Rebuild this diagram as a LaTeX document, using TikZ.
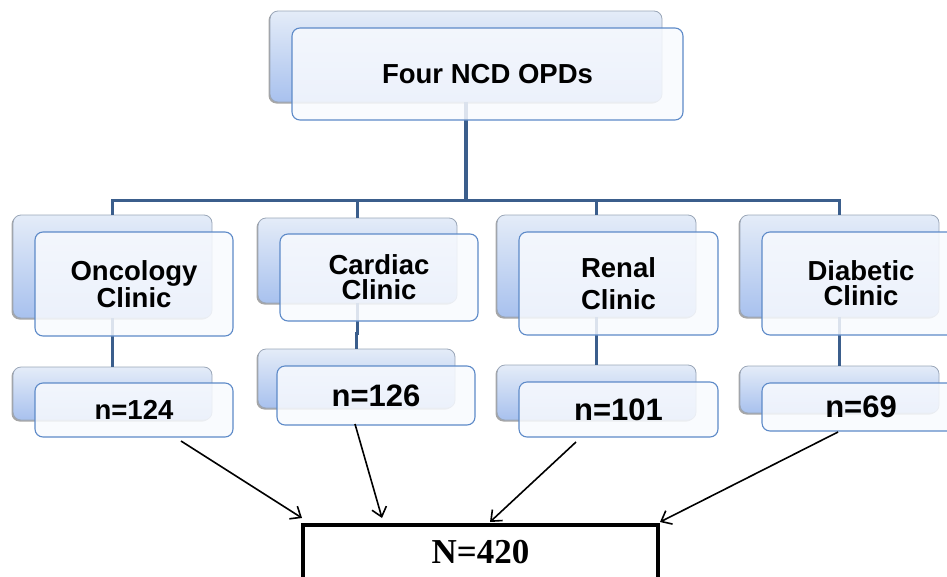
\documentclass[tikz,border=0pt]{standalone}
\usepackage{fontspec}
\setmainfont{Liberation Sans}
\newfontfamily\timesf{Liberation Serif}
\usetikzlibrary{arrows.meta,shadows}
\definecolor{connc}{HTML}{3B5E8C}
\definecolor{bluetop}{HTML}{E4ECF8}
\definecolor{bluebot}{HTML}{A8C1EE}
\definecolor{backedge}{HTML}{9AA6B8}
\definecolor{frontedge}{HTML}{5D8AC8}
\definecolor{frontfill}{HTML}{F8FAFE}
\begin{document}
\begin{tikzpicture}[x=1pt,y=-1pt,
  backbox/.style={draw=backedge, line width=0.8pt, rounded corners=8pt,
    top color=bluetop, bottom color=bluebot, inner sep=0pt,
    drop shadow={shadow xshift=-1.5pt, shadow yshift=-1.5pt, opacity=0.35, fill=black}},
  frontbox/.style={draw=frontedge, line width=1.1pt, rounded corners=8pt,
    fill=frontfill, fill opacity=0.85, text opacity=1, inner sep=0pt,
    align=center, font=\bfseries\fontsize{27.5}{25}\selectfont},
  conn/.style={draw=connc, line width=3.4pt},
  arr/.style={draw=black, line width=1.6pt, -{Straight Barb[length=9pt,width=15pt,line width=1.6pt]}},
  totalbox/.style={draw=black, line width=3.2pt, fill=white, inner sep=0pt,
    font=\timesf\bfseries\fontsize{35}{35}\selectfont}
]
\useasboundingbox (0,0) rectangle (947,576);
\clip (0,0) rectangle (947,576);

% back boxes
\node[backbox, minimum width=392pt, minimum height=91pt] (tback) at (466,56.5) {};
\node[backbox, minimum width=199pt, minimum height=103pt] (oback) at (112.5,266.5) {};
\node[backbox, minimum width=199pt, minimum height=85pt] (cback) at (357.5,260.5) {};
\node[backbox, minimum width=199pt, minimum height=102pt] (rback) at (596.5,266) {};
\node[backbox, minimum width=199pt, minimum height=102pt] (dback) at (839.5,266) {};
\node[backbox, minimum width=199pt, minimum height=53pt] (onback) at (112.5,393.5) {};
\node[backbox, minimum width=197pt, minimum height=59pt] (cnback) at (356.5,378.5) {};
\node[backbox, minimum width=199pt, minimum height=55pt] (rnback) at (596.5,392.5) {};
\node[backbox, minimum width=199pt, minimum height=47pt] (dnback) at (839.5,389.5) {};

% tree connectors
\draw[conn] (tback.south) -- ++(0,98) -| (oback.north);
\draw[conn] (tback.south) -- ++(0,98) -| (cback.north);
\draw[conn] (tback.south) -- ++(0,98) -| (rback.north);
\draw[conn] (tback.south) -- ++(0,98) -| (dback.north);
\draw[conn] (oback.south) -- (onback.north);
\draw[conn] (cback.south) -- ++(0,30) -| (cnback.north);
\draw[conn] (rback.south) -- (rnback.north);
\draw[conn] (dback.south) -- (dnback.north);

% front boxes
\node[frontbox, minimum width=391pt, minimum height=92pt] (tfront) at (487.5,74) {Four NCD OPDs};
\node[frontbox, minimum width=198pt, minimum height=104pt] (ofront) at (134,284) {Oncology\\Clinic};
\node[frontbox, minimum width=198pt, minimum height=87pt] (cfront) at (379,277.5) {Cardiac\\Clinic};
\node[frontbox, minimum width=199pt, minimum height=103pt, font=\bfseries\fontsize{27.5}{32}\selectfont] (rfront) at (618.5,283.5) {Renal\\Clinic};
\node[frontbox, minimum width=198pt, minimum height=103pt] (dfront) at (861,283.5) {Diabetic\\Clinic};
\node[frontbox, minimum width=198pt, minimum height=54pt] (onfront) at (134,410) {n=124};
\node[frontbox, minimum width=198pt, minimum height=59pt, font=\bfseries\fontsize{31}{31}\selectfont] (cnfront) at (376,395.5) {n=126};
\node[frontbox, minimum width=199pt, minimum height=55pt, font=\bfseries\fontsize{31}{31}\selectfont] (rnfront) at (618.5,409.5) {n=101};
\node[frontbox, minimum width=198pt, minimum height=48pt, font=\bfseries\fontsize{31}{31}\selectfont] (dnfront) at (861,407) {n=69};

% total box
\node[totalbox, minimum width=355pt, minimum height=54pt] (total) at (480.5,552) {N=420};

% arrows
\coordinate (a1) at (181,441);
\coordinate (a2) at (355,424);
\coordinate (a3) at (576,442);
\coordinate (a4) at (838,432);
\coordinate (e1) at (302,518);
\coordinate (e2) at (382,518);
\coordinate (e3) at (490,522);
\coordinate (e4) at (660,522);
\draw[arr] (a1) -- (e1);
\draw[arr] (a2) -- (e2);
\draw[arr] (a3) -- (e3);
\draw[arr] (a4) -- (e4);
\end{tikzpicture}
\end{document}
